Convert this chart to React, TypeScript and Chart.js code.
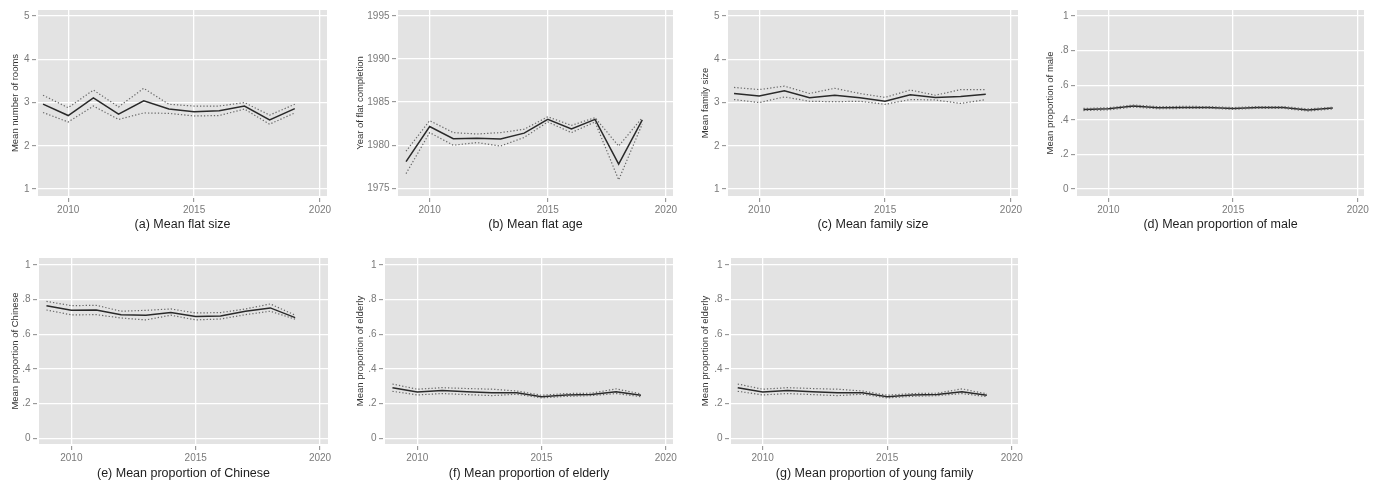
import React, { useEffect, useRef } from "react";
import { Chart, registerables } from "chart.js";

Chart.register(...registerables);

const years = [2009, 2010, 2011, 2012, 2013, 2014, 2015, 2016, 2017, 2018, 2019];
const xTickValues = [2010, 2015, 2020];

const roomsTicks = [1, 2, 3, 4, 5];
const roomsLabels = ["1", "2", "3", "4", "5"];
const flatYearTicks = [1975, 1980, 1985, 1990, 1995];
const flatYearLabels = ["1975", "1980", "1985", "1990", "1995"];
const propTicks = [0, 0.2, 0.4, 0.6, 0.8, 1];
const propLabels = ["0", ".2", ".4", ".6", ".8", "1"];

const flatSizeMean = [2.965, 2.7, 3.11, 2.73, 3.04, 2.85, 2.79, 2.81, 2.92, 2.6, 2.86];
const flatSizeUpper = [3.17, 2.88, 3.29, 2.9, 3.33, 2.96, 2.92, 2.92, 3.0, 2.71, 2.96];
const flatSizeLower = [2.77, 2.55, 2.92, 2.61, 2.76, 2.75, 2.69, 2.7, 2.85, 2.5, 2.76];

const flatAgeMean = [1978.1, 1982.16, 1980.76, 1980.8, 1980.73, 1981.4, 1983.0, 1981.9, 1983.0, 1977.8, 1982.93];
const flatAgeUpper = [1979.3, 1982.85, 1981.46, 1981.3, 1981.46, 1981.85, 1983.3, 1982.3, 1983.2, 1979.9, 1983.2];
const flatAgeLower = [1976.7, 1981.46, 1980.0, 1980.3, 1979.9, 1980.9, 1982.7, 1981.46, 1982.7, 1975.97, 1982.47];

const familyMean = [3.21, 3.15, 3.27, 3.11, 3.17, 3.11, 3.03, 3.18, 3.12, 3.14, 3.19];
const familyUpper = [3.35, 3.3, 3.38, 3.21, 3.33, 3.21, 3.12, 3.29, 3.17, 3.3, 3.3];
const familyLower = [3.07, 3.0, 3.13, 3.03, 3.02, 3.03, 2.96, 3.07, 3.06, 2.98, 3.07];

const maleMean = [0.46, 0.464, 0.48, 0.47, 0.472, 0.472, 0.466, 0.472, 0.472, 0.457, 0.468];
const maleUpper = [0.466, 0.47, 0.486, 0.476, 0.478, 0.477, 0.471, 0.477, 0.477, 0.463, 0.473];
const maleLower = [0.454, 0.458, 0.474, 0.464, 0.466, 0.467, 0.461, 0.467, 0.467, 0.451, 0.463];

const chineseMean = [0.765, 0.738, 0.74, 0.712, 0.71, 0.725, 0.702, 0.706, 0.733, 0.752, 0.696];
const chineseUpper = [0.79, 0.765, 0.767, 0.733, 0.738, 0.746, 0.723, 0.725, 0.746, 0.775, 0.71];
const chineseLower = [0.74, 0.712, 0.713, 0.694, 0.683, 0.71, 0.683, 0.688, 0.713, 0.733, 0.687];

const elderlyMean = [0.292, 0.267, 0.275, 0.269, 0.263, 0.263, 0.24, 0.25, 0.252, 0.269, 0.248];
const elderlyUpper = [0.313, 0.283, 0.292, 0.287, 0.283, 0.273, 0.248, 0.258, 0.26, 0.285, 0.256];
const elderlyLower = [0.271, 0.25, 0.258, 0.252, 0.246, 0.254, 0.233, 0.242, 0.246, 0.258, 0.24];

const youngMean = [0.292, 0.267, 0.275, 0.269, 0.263, 0.263, 0.24, 0.25, 0.252, 0.269, 0.248];
const youngUpper = [0.313, 0.283, 0.292, 0.287, 0.283, 0.273, 0.248, 0.258, 0.26, 0.285, 0.256];
const youngLower = [0.271, 0.25, 0.258, 0.252, 0.246, 0.254, 0.233, 0.242, 0.246, 0.258, 0.24];

const FONT = "'Liberation Sans', Arial, Helvetica, sans-serif";

type PanelDef = {
  left: number; top: number; width: number; height: number;
  plotLeft: number; plotRight: number; plotTop: number; plotBottom: number;
  xMin: number; xMax: number; yMin: number; yMax: number;
  yTicks: number[]; yLabels: string[];
  yTitle: string; xTitle: string; titlePad: number;
  mean: number[]; upper: number[]; lower: number[];
};

const panels: PanelDef[] = [
  { left: 0, top: 0, width: 345, height: 240, plotLeft: 38, plotRight: 327, plotTop: 10, plotBottom: 196,
    xMin: 2008.8, xMax: 2020.28, yMin: 0.84, yMax: 5.14, yTicks: roomsTicks, yLabels: roomsLabels,
    yTitle: "Mean number of rooms", xTitle: "(a) Mean flat size", titlePad: 7.5,
    mean: flatSizeMean, upper: flatSizeUpper, lower: flatSizeLower },
  { left: 345, top: 0, width: 345, height: 240, plotLeft: 398, plotRight: 673, plotTop: 10, plotBottom: 196,
    xMin: 2008.66, xMax: 2020.3, yMin: 1974.1, yMax: 1995.7, yTicks: flatYearTicks, yLabels: flatYearLabels,
    yTitle: "Year of flat completion", xTitle: "(b) Mean flat age", titlePad: 7.5,
    mean: flatAgeMean, upper: flatAgeUpper, lower: flatAgeLower },
  { left: 690, top: 0, width: 345, height: 240, plotLeft: 728, plotRight: 1018, plotTop: 10, plotBottom: 196,
    xMin: 2008.76, xMax: 2020.28, yMin: 0.84, yMax: 5.14, yTicks: roomsTicks, yLabels: roomsLabels,
    yTitle: "Mean family size", xTitle: "(c) Mean family size", titlePad: 7.5,
    mean: familyMean, upper: familyUpper, lower: familyLower },
  { left: 1035, top: 0, width: 348, height: 240, plotLeft: 1077, plotRight: 1364, plotTop: 10, plotBottom: 196,
    xMin: 2008.74, xMax: 2020.25, yMin: -0.04, yMax: 1.035, yTicks: propTicks, yLabels: propLabels,
    yTitle: "Mean proportion of male", xTitle: "(d) Mean proportion of male", titlePad: 7.5,
    mean: maleMean, upper: maleUpper, lower: maleLower },
  { left: 0, top: 240, width: 345, height: 246, plotLeft: 39, plotRight: 328, plotTop: 258, plotBottom: 444,
    xMin: 2008.7, xMax: 2020.32, yMin: -0.033, yMax: 1.04, yTicks: propTicks, yLabels: propLabels,
    yTitle: "Mean proportion of Chinese", xTitle: "(e) Mean proportion of Chinese", titlePad: 5.2,
    mean: chineseMean, upper: chineseUpper, lower: chineseLower },
  { left: 345, top: 240, width: 345, height: 246, plotLeft: 385, plotRight: 673, plotTop: 258, plotBottom: 444,
    xMin: 2008.7, xMax: 2020.29, yMin: -0.033, yMax: 1.04, yTicks: propTicks, yLabels: propLabels,
    yTitle: "Mean proportion of elderly", xTitle: "(f) Mean proportion of elderly", titlePad: 5.2,
    mean: elderlyMean, upper: elderlyUpper, lower: elderlyLower },
  { left: 690, top: 240, width: 345, height: 246, plotLeft: 731, plotRight: 1018, plotTop: 258, plotBottom: 444,
    xMin: 2008.73, xMax: 2020.25, yMin: -0.033, yMax: 1.04, yTicks: propTicks, yLabels: propLabels,
    yTitle: "Mean proportion of elderly", xTitle: "(g) Mean proportion of young family", titlePad: 5.2,
    mean: youngMean, upper: youngUpper, lower: youngLower },
];

const bgPlugin = {
  id: "panelBg",
  beforeDraw(chart: any) {
    const { ctx, chartArea } = chart;
    if (!chartArea) return;
    ctx.save();
    ctx.fillStyle = "#e3e3e3";
    ctx.fillRect(chartArea.left, chartArea.top, chartArea.right - chartArea.left, chartArea.bottom - chartArea.top);
    ctx.restore();
  },
};

function Panel({ p }: { p: PanelDef }) {
  const ref = useRef<HTMLCanvasElement>(null);
  useEffect(() => {
    const toPts = (arr: number[]) => years.map((x, i) => ({ x, y: arr[i] }));
    const ci = (arr: number[]) => ({
      data: toPts(arr),
      borderColor: "#686868",
      borderWidth: 1.2,
      borderDash: [1.3, 2],
      pointRadius: 0,
      fill: false,
      tension: 0,
    });
    const chart = new Chart(ref.current as HTMLCanvasElement, {
      type: "line",
      data: {
        datasets: [
          ci(p.lower),
          ci(p.upper),
          {
            data: toPts(p.mean),
            borderColor: "#2a2a2a",
            borderWidth: 1.5,
            pointRadius: 0,
            fill: false,
            tension: 0,
          },
        ],
      },
      options: {
        responsive: false,
        animation: false,
        events: [],
        layout: {
          padding: {
            left: 0,
            top: p.plotTop - p.top,
            right: p.left + p.width - p.plotRight,
            bottom: 0,
          },
        },
        plugins: { legend: { display: false }, tooltip: { enabled: false }, title: { display: false } },
        scales: {
          x: {
            type: "linear",
            min: p.xMin,
            max: p.xMax,
            afterBuildTicks: (s: any) => { s.ticks = xTickValues.map((v) => ({ value: v })); },
            afterFit: (s: any) => { s.height = p.top + p.height - p.plotBottom; },
            ticks: {
              callback: (v: any) => String(v),
              color: "#7a7a7a",
              font: { family: FONT, size: 10 },
              padding: 2,
              maxRotation: 0,
              autoSkip: false,
            },
            grid: {
              color: "#ffffff", lineWidth: 1.3, tickColor: "#8a8a8a", tickLength: 6, tickWidth: 1,
              tickBorderDash: [4, 2], tickBorderDashOffset: 4,
            },
            border: { display: false },
            title: {
              display: true,
              text: p.xTitle,
              color: "#1e1e1e",
              font: { family: FONT, size: 12.5 },
              padding: { top: 0, bottom: p.titlePad },
            },
          },
          y: {
            type: "linear",
            min: p.yMin,
            max: p.yMax,
            afterBuildTicks: (s: any) => { s.ticks = p.yTicks.map((v) => ({ value: v })); },
            afterFit: (s: any) => { s.width = p.plotLeft - p.left; },
            ticks: {
              callback: (_v: any, i: number) => p.yLabels[i],
              color: "#7a7a7a",
              font: { family: FONT, size: 10 },
              padding: 2.5,
              autoSkip: false,
            },
            grid: {
              color: "#ffffff", lineWidth: 1.3, tickColor: "#8a8a8a", tickLength: 6, tickWidth: 1,
              tickBorderDash: [4, 2],
            },
            border: { display: false },
            title: {
              display: true,
              text: p.yTitle,
              color: "#333333",
              font: { family: FONT, size: 9.5 },
              padding: { top: 9.3, bottom: 0 },
            },
          },
        },
      },
      plugins: [bgPlugin],
    } as any);
    return () => chart.destroy();
  }, []);
  return (
    <canvas
      ref={ref}
      width={p.width}
      height={p.height}
      style={{ position: "absolute", left: p.left, top: p.top, width: p.width, height: p.height }}
    />
  );
}

export default function App() {
  return (
    <div style={{ position: "fixed", left: 0, top: 0, width: 1383, height: 486, background: "#ffffff", overflow: "hidden" }}>
      {panels.map((p, i) => (
        <Panel key={i} p={p} />
      ))}
    </div>
  );
}
